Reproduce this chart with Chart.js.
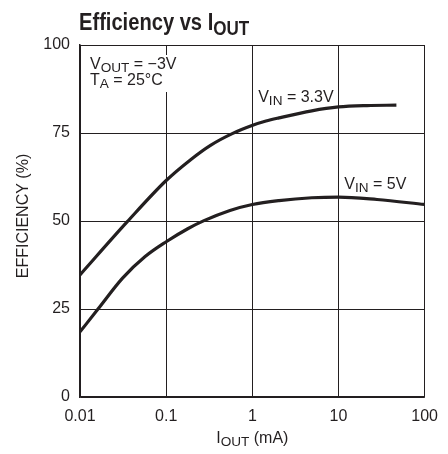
<!DOCTYPE html>
<html>
<head>
<meta charset="utf-8">
<script src="https://cdn.jsdelivr.net/npm/chart.js@4.4.1/dist/chart.umd.min.js"></script>
<style>
  html, body { margin: 0; padding: 0; background: #fff; }
  #wrap { width: 448px; height: 454px; }
</style>
</head>
<body>
<div id="wrap"><canvas id="effChart" width="448" height="454"></canvas></div>
<script>
// Efficiency vs IOUT - two input voltages, log current axis
const xTicks = [0.01, 0.1, 1, 10, 100];
const yTicks = [0, 25, 50, 75, 100];

const current33 = [0.01, 0.0354, 0.1, 0.194, 0.327, 0.593, 1.01, 1.44, 2.04, 4.9, 10, 21.5, 47];
const eff33 = [34.7, 49.8, 61.5, 67.5, 71.5, 74.9, 77.2, 78.4, 79.3, 81.3, 82.4, 82.8, 82.9];

const current5 = [0.01, 0.0161, 0.031, 0.057, 0.1, 0.178, 0.275, 0.55, 1, 2.04, 4.9, 10, 28, 100];
const eff5 = [18.5, 24.9, 33.7, 39.9, 44.1, 47.8, 50.1, 53.0, 54.7, 55.8, 56.6, 56.8, 56.1, 54.7];

const INK = '#231f20';
const FONT = '"Liberation Sans", Arial, sans-serif';

// curve labels anchored in data space (left edge, baseline)
const curveLabels = [
    { x: 1.17, y: 83.8, parts: [['V', 0], ['IN', 1], [' = 3.3V', 0]] },
    { x: 11.7, y: 59.1, parts: [['V', 0], ['IN', 1], [' = 5V', 0]] }
];

function toPoints(xs, ys) {
    return xs.map((x, i) => ({ x: x, y: ys[i] }));
}

// draws text with subscript pieces; returns width
function drawRich(ctx, x, y, parts, size, bold, scaleX, measureOnly) {
    const weight = bold ? 'bold ' : '';
    let w = 0;
    ctx.save();
    ctx.translate(x, y);
    ctx.scale(scaleX, 1);
    ctx.textBaseline = 'alphabetic';
    ctx.textAlign = 'left';
    ctx.fillStyle = INK;
    parts.forEach(p => {
        const sub = p[1] === 1;
        const s = sub ? size * 0.85 : size;
        ctx.font = weight + s + 'px ' + FONT;
        if (!measureOnly) ctx.fillText(p[0], w, sub ? size * 0.2 : 0);
        w += ctx.measureText(p[0]).width;
    });
    ctx.restore();
    return w * scaleX;
}

const textLayer = {
    id: 'textLayer',
    afterDraw(chart) {
        const ctx = chart.ctx;
        const area = chart.chartArea;
        const xs = chart.scales.x;
        const ys = chart.scales.y;

        // title
        drawRich(ctx, 79, 30, [['Efficiency vs I', 0], ['OUT', 1]], 23, true, 0.875);

        // conditions box (hides the grid line behind it)
        ctx.save();
        ctx.fillStyle = '#fff';
        ctx.fillRect(area.left + 4, 55, 96, 37);
        ctx.restore();
        drawRich(ctx, 90, 69, [['V', 0], ['OUT', 1], [' = \u22123V', 0]], 16, false, 1);
        drawRich(ctx, 90, 85, [['T', 0], ['A', 1], [' = 25\u00b0C', 0]], 16, false, 1);

        // curve labels
        curveLabels.forEach(l => {
            drawRich(ctx, xs.getPixelForValue(l.x), ys.getPixelForValue(l.y), l.parts, 16, false, 1);
        });

        // x axis title
        const xt = [['I', 0], ['OUT', 1], [' (mA)', 0]];
        const xw = drawRich(ctx, 0, 0, xt, 16, false, 1, true);
        drawRich(ctx, (area.left + area.right) / 2 - xw / 2, 443, xt, 16, false, 1);

        // y axis title
        ctx.save();
        ctx.translate(28, 216);
        ctx.rotate(-Math.PI / 2);
        ctx.font = '16px ' + FONT;
        ctx.fillStyle = INK;
        ctx.textAlign = 'center';
        ctx.textBaseline = 'alphabetic';
        ctx.fillText('EFFICIENCY (%)', 0, 0);
        ctx.restore();
    }
};

new Chart(document.getElementById('effChart'), {
    type: 'line',
    data: {
        datasets: [
            {
                label: 'VIN = 3.3V',
                data: toPoints(current33, eff33),
                borderColor: INK,
                borderWidth: 3.2,
                pointRadius: 0,
                cubicInterpolationMode: 'monotone',
                fill: false
            },
            {
                label: 'VIN = 5V',
                data: toPoints(current5, eff5),
                borderColor: INK,
                borderWidth: 3.2,
                pointRadius: 0,
                cubicInterpolationMode: 'monotone',
                fill: false
            }
        ]
    },
    options: {
        responsive: false,
        animation: false,
        events: [],
        layout: {
            padding: { left: 0, top: 45, right: 16, bottom: 0 }
        },
        plugins: {
            legend: { display: false },
            title: { display: false },
            tooltip: { enabled: false }
        },
        scales: {
            x: {
                type: 'logarithmic',
                min: 0.01,
                max: 100,
                afterBuildTicks: function (scale) {
                    scale.ticks = xTicks.map(v => ({ value: v }));
                },
                afterFit: function (scale) {
                    scale.height = 57;
                },
                ticks: {
                    color: INK,
                    padding: 10,
                    maxRotation: 0,
                    font: { family: FONT, size: 16 },
                    callback: function (value) {
                        return String(value);
                    }
                },
                grid: {
                    color: INK,
                    lineWidth: 1,
                    drawTicks: false
                },
                border: { color: INK, width: 1.5 }
            },
            y: {
                min: 0,
                max: 100,
                afterBuildTicks: function (scale) {
                    scale.ticks = yTicks.map(v => ({ value: v }));
                },
                afterFit: function (scale) {
                    scale.width = 80;
                },
                ticks: {
                    color: INK,
                    padding: 10,
                    font: { family: FONT, size: 16 }
                },
                grid: {
                    color: INK,
                    lineWidth: 1,
                    drawTicks: false
                },
                border: { color: INK, width: 1.5 }
            }
        }
    },
    plugins: [textLayer]
});
</script>
</body>
</html>
